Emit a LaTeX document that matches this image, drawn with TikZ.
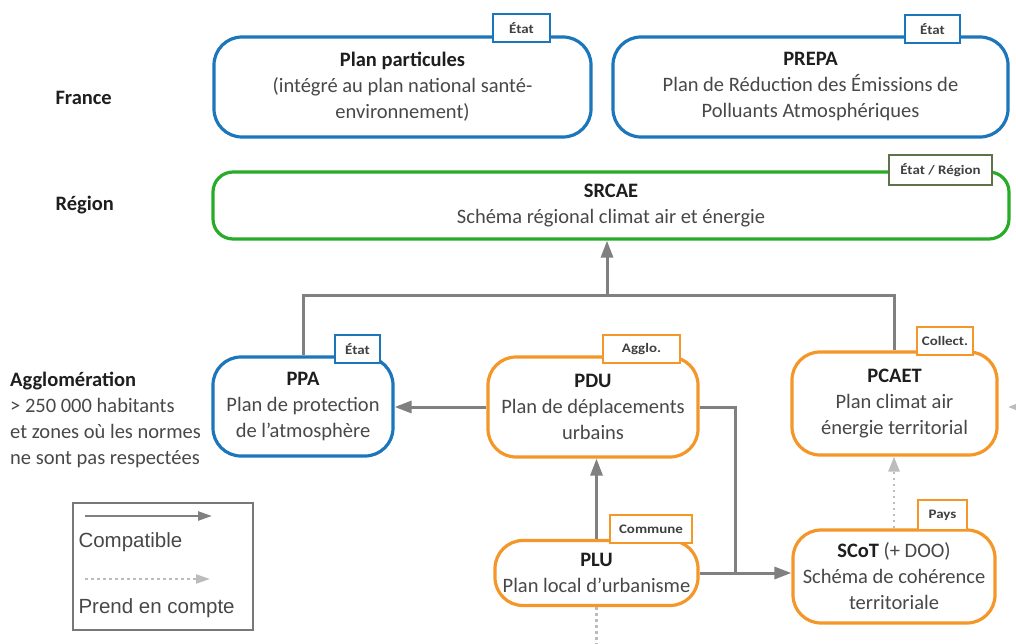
\documentclass[tikz,border=0pt]{standalone}
\usepackage{fontspec}
\setmainfont{Carlito}
\newfontfamily\legfont{Liberation Sans}
\newfontfamily\tagfont[FakeStretch=1.15]{Carlito}
\usetikzlibrary{arrows.meta}
\definecolor{blueC}{RGB}{28,118,188}
\definecolor{greenC}{RGB}{40,172,40}
\definecolor{greenTag}{RGB}{95,115,75}
\definecolor{orangeC}{RGB}{245,150,40}
\definecolor{arrowgray}{RGB}{128,128,128}
\definecolor{dotgray}{RGB}{188,188,188}
\definecolor{txt}{RGB}{72,72,72}
\definecolor{ttl}{RGB}{30,30,30}
\definecolor{leggray}{RGB}{120,120,120}
\newcommand{\mainsz}{\fontsize{20.5}{26}\selectfont}
\newcommand{\ttlb}[1]{{\bfseries\color{ttl}#1}}
\begin{document}
\begin{tikzpicture}[x=1pt,y=-1pt,
  box/.style={draw, line width=3.2pt, rounded corners=28pt, align=center, inner sep=0pt, fill=white, text=txt, font=\mainsz},
  tagbox/.style={draw, fill=white, line width=1.8pt, inner sep=0pt, font=\tagfont\bfseries\fontsize{13}{14}\selectfont, text=ttl!85},
  conn/.style={draw=arrowgray, line width=3pt},
  tipC/.style={-{Triangle[length=17pt,width=12pt]}},
  dotline/.style={draw=dotgray, line width=2.6pt, dash pattern=on 2.5pt off 3.5pt},
  lvl/.style={anchor=west, font=\mainsz\bfseries, text=ttl},
  legtxt/.style={anchor=west, font=\legfont\fontsize{20.5}{24}\selectfont, text=txt}
]
\useasboundingbox (0,0) rectangle (1016,644);
\clip (0,0) rectangle (1016,644);

% level labels
\node[lvl] (lfr) at (52,98) {France};
\node[lvl] (lre) at (52,205) {Région};
\node[anchor=north west, align=left, font=\mainsz, text=txt, inner sep=0pt] (lag) at (10,372)
  {\ttlb{Agglomération}\\> 250 000 habitants\\et zones où les normes\\ne sont pas respectées};

% boxes
\node[box, draw=blueC, minimum width=377pt, minimum height=100pt] (pp) at (402.5,87)
  {\ttlb{Plan particules}\\(intégré au plan national santé-\\environnement)};
\node[box, draw=blueC, minimum width=395pt, minimum height=100pt] (prepa) at (810.5,87)
  {\ttlb{PREPA}\\Plan de Réduction des Émissions de\\Polluants Atmosphériques};
\node[box, draw=greenC, rounded corners=20pt, minimum width=796pt, minimum height=67pt] (srcae) at (611,205.5)
  {\ttlb{SRCAE}\\Schéma régional climat air et énergie};
\node[box, draw=blueC, minimum width=180pt, minimum height=99pt] (ppa) at (303,406.5)
  {\ttlb{PPA}\\Plan de protection\\de l'atmosphère};
\node[box, draw=orangeC, minimum width=210pt, minimum height=100pt] (pdu) at (593,407)
  {\ttlb{PDU}\\Plan de déplacements\\urbains};
\node[box, draw=orangeC, minimum width=205pt, minimum height=103pt] (pcaet) at (894.5,403.5)
  {\ttlb{PCAET}\\Plan climat air\\énergie territorial};
\node[box, draw=orangeC, minimum width=203pt, minimum height=65pt] (plu) at (596.5,573)
  {\ttlb{PLU}\\Plan local d'urbanisme};
\node[box, draw=orangeC, minimum width=202pt, minimum height=93pt] (scot) at (894,576.5)
  {\ttlb{SCoT} (+ DOO)\\Schéma de cohérence\\territoriale};

% connectors
\coordinate (J) at (607,295);
\coordinate (K) at (735,573);
\coordinate (pb) at (596.5,660);
\coordinate (rs1) at (1030,407);
\coordinate (rs2) at (1008,407);
\draw[conn, tipC] (J) -- (J |- srcae.south);
\draw[conn] (ppa.north) |- (J) -| (pcaet.north);
\draw[conn, tipC] (pdu.west) -- (pdu.west -| ppa.east);
\draw[conn] (pdu.east) -| (K);
\draw[conn, tipC] (plu.east) -- (plu.east -| scot.west);
\draw[conn, tipC] (plu.north) -- (plu.north |- pdu.south);
\draw[dotline, -{Triangle[length=15pt,width=11pt]}] (scot.north) -- (scot.north |- pcaet.south);
\draw[dotline] (plu.south) -- (pb);
\draw[dotline, -{Triangle[length=15pt,width=11pt]}] (rs1) -- (rs2);

% tags
\node[tagbox, draw=blueC, minimum width=57pt, minimum height=28pt] (tpp) at (521.5,28) {État};
\node[tagbox, draw=blueC, minimum width=55pt, minimum height=28pt] (tprepa) at (932.5,29) {État};
\node[tagbox, draw=greenTag, minimum width=103pt, minimum height=30pt] (tsrcae) at (940.5,170) {État / Région};
\node[tagbox, draw=blueC, minimum width=45pt, minimum height=28pt] (tppa) at (357.5,349) {État};
\node[tagbox, draw=orangeC, minimum width=77pt, minimum height=28pt] (tpdu) at (641.5,349) {Agglo.};
\node[tagbox, draw=orangeC, minimum width=56pt, minimum height=28pt] (tpcaet) at (945,341) {Collect.};
\node[tagbox, draw=orangeC, minimum width=82pt, minimum height=28pt] (tplu) at (651,529) {Commune};
\node[tagbox, draw=orangeC, minimum width=49pt, minimum height=30pt] (tscot) at (942.5,515) {Pays};

% legend
\node[draw=leggray, line width=1.3pt, minimum width=180pt, minimum height=127pt, inner sep=0pt] (legend) at (163,566.5) {};
\coordinate (la1) at (85,516);
\coordinate (la2) at (212,516);
\coordinate (lb1) at (85,579);
\coordinate (lb2) at (210,579);
\draw[draw=arrowgray, line width=2.4pt, -{Triangle[length=14pt,width=9pt]}] (la1) -- (la2);
\draw[draw=dotgray, line width=2.2pt, dash pattern=on 2.5pt off 3.5pt, -{Triangle[length=14pt,width=9pt]}] (lb1) -- (lb2);
\node[legtxt] (lc) at (75,542) {Compatible};
\node[legtxt] (lp) at (75,608) {Prend en compte};
\end{tikzpicture}
\end{document}
